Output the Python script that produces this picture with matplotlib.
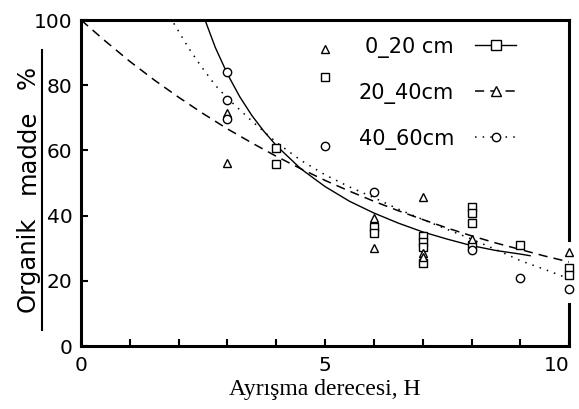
import matplotlib.pyplot as plt
import matplotlib.lines as mlines

# fitted curves
x_020 = [2.55, 2.75, 3.0, 3.25, 3.5, 3.75, 4.0, 4.5, 5.0, 5.5, 6.0, 6.5, 7.0, 7.5, 8.0, 8.5, 9.0, 9.2]
y_020 = [99.6, 91.6, 83.4, 76.5, 70.7, 65.8, 61.5, 54.4, 48.9, 44.4, 40.8, 37.7, 35.0, 32.8, 30.8, 29.3, 28.2, 27.7]

x_2040 = [0, 0.5, 1, 1.5, 2, 2.5, 3, 3.5, 4, 4.5, 5, 5.5, 6, 6.5, 7, 7.5, 8, 8.5, 9, 9.5, 10]
y_2040 = [100, 93.5, 87.3, 81.6, 76.3, 71.3, 66.6, 62.3, 58.2, 54.4, 50.8, 47.5, 44.4, 41.5, 38.8, 36.2, 33.8, 31.6, 29.6, 27.6, 25.8]

x_4060 = [1.9, 2.2, 2.45, 2.75, 3.0, 3.25, 3.5, 4.0, 4.5, 5.0, 5.5, 6.0, 6.5, 7.0, 7.5, 8.0, 8.5, 9.0, 9.5, 9.9]
y_4060 = [99.0, 91.5, 86.0, 80.0, 76.0, 72.5, 69.0, 62.5, 57.0, 52.5, 48.8, 45.5, 42.0, 38.8, 35.8, 32.8, 29.6, 26.2, 23.5, 21.2]

# measured points
sq_x = [4, 4, 5, 6, 6, 7, 7, 7, 7, 8, 8, 8, 8, 9, 10, 10]
sq_y = [60.7, 55.8, 82.5, 36.5, 34.7, 33.7, 32.0, 30.4, 25.5, 42.6, 40.8, 37.7, 31.0, 31.0, 23.9, 21.8]

tri_x = [3, 3, 5, 6, 6, 7, 7, 7, 8, 10]
tri_y = [71.5, 56.0, 91.0, 39.3, 30.0, 45.7, 28.5, 27.4, 32.8, 28.8]

cir_x = [3, 3, 3, 5, 6, 8, 9, 10]
cir_y = [84.0, 75.5, 69.6, 61.4, 47.3, 29.6, 20.9, 17.5]

fig = plt.figure(figsize=(5.79, 4.09), dpi=100)
ax = fig.add_axes([0.140, 0.154, 0.843, 0.797])

ax.plot(x_020, y_020, color='black', lw=1.0)
ax.plot(x_2040, y_2040, color='black', lw=1.1, linestyle=(0, (6, 4)))
ax.plot(x_4060, y_4060, color='black', lw=1.1, linestyle=(0, (1, 4)))

mk = dict(linestyle='none', mfc='white', mec='black', mew=1.0, ms=6, clip_on=False)
ax.plot(sq_x, sq_y, marker='s', **mk)
ax.plot(tri_x, tri_y, marker='^', **mk)
ax.plot(cir_x, cir_y, marker='o', **mk)

ax.set_xlim(0, 10)
ax.set_ylim(0, 100)
ax.set_xticks(range(0, 11))
ax.set_xticklabels(['0', '', '', '', '', '5', '', '', '', '', '10'])
ax.set_yticks([0, 20, 40, 60, 80, 100])
ax.tick_params(direction='in', length=5, width=1.5, labelsize=14.5)
ax.tick_params(axis='x', pad=7)
ax.tick_params(axis='y', pad=6)
ax.get_xticklabels()[-1].set_horizontalalignment('right')

for s in ['left', 'bottom', 'top', 'right']:
    ax.spines[s].set_linewidth(2.2)
# right frame is broken where the H=10 points sit
ax.spines['right'].set_bounds(0, 13)
ax.plot([10, 10], [32.5, 100], color='black', lw=2.2, clip_on=False, solid_capstyle='projecting')

h1 = mlines.Line2D([], [], color='black', lw=1.0, marker='s', mfc='white', mec='black', ms=7)
h2 = mlines.Line2D([], [], color='black', lw=1.1, linestyle=(0, (6, 4)), marker='^', mfc='white', mec='black', ms=7)
h3 = mlines.Line2D([], [], color='black', lw=1.1, linestyle=(0, (1, 4)), marker='o', mfc='white', mec='black', ms=6)
ax.legend([h1, h2, h3], ['0_20 cm', '20_40cm', '40_60cm'], loc='upper left',
          bbox_to_anchor=(0.53, 1.007), markerfirst=False, frameon=False, fontsize=15,
          handlelength=2.0, handletextpad=1.0, labelspacing=1.2, numpoints=1)

ax.set_xlabel('Ayrışma derecesi, H', family='Liberation Serif', fontsize=17, labelpad=3)
# y label words are spread out along the bar
fig.text(0.048, 1 - 264 / 409, 'Organik', rotation=90, fontsize=17.5, ha='center', va='center')
fig.text(0.048, 1 - 152 / 409, 'madde', rotation=90, fontsize=17.5, ha='center', va='center')
fig.text(0.048, 1 - 77 / 409, '%', rotation=90, fontsize=17.5, ha='center', va='center')
fig.add_artist(mlines.Line2D([0.073, 0.073], [0.193, 0.878], color='black', lw=1.5))

fig.savefig('out.png', dpi=100)
